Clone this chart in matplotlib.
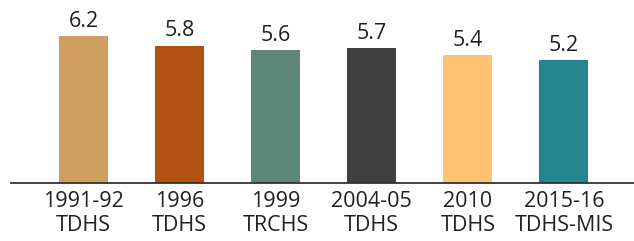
import matplotlib.pyplot as plt
import numpy as np

plt.rcParams['font.family'] = ['Open Sans', 'DejaVu Sans']

# survey data
surveys = ['1991-92\nTDHS', '1996\nTDHS', '1999\nTRCHS', '2004-05\nTDHS', '2010\nTDHS', '2015-16\nTDHS-MIS']
fertility = [6.2, 5.8, 5.6, 5.7, 5.4, 5.2]
colors = ['#CF9F5F', '#B35112', '#5E877A', '#404040', '#FEC272', '#248490']

text_color = '#231F20'

fig = plt.figure(figsize=(6.34, 2.41), dpi=100)
ax = fig.add_axes([11 / 634, 58 / 241, 1 - 11 / 634, 1 - 58 / 241])

ind = np.arange(len(surveys))
bars = ax.bar(ind, fertility, 0.51, color=colors)

# value labels above bars
for b, v in zip(bars, fertility):
    ax.annotate(f'{v:.1f}', (b.get_x() + b.get_width() / 2, v),
                xytext=(0, 3), textcoords='offset points',
                ha='center', va='bottom', fontsize=15.5, color=text_color)

ax.set_xlim(-0.755, 5.73)
ax.set_ylim(0, 7.72)
ax.set_xticks(ind)
ax.set_xticklabels(surveys, fontsize=15.5, color=text_color, linespacing=1.15)
ax.tick_params(axis='x', length=0, pad=6)
ax.set_yticks([])

for s in ['top', 'right', 'left']:
    ax.spines[s].set_visible(False)
ax.spines['bottom'].set_color('#333333')
ax.spines['bottom'].set_linewidth(1.3)

plt.savefig('out.png', dpi=100)
